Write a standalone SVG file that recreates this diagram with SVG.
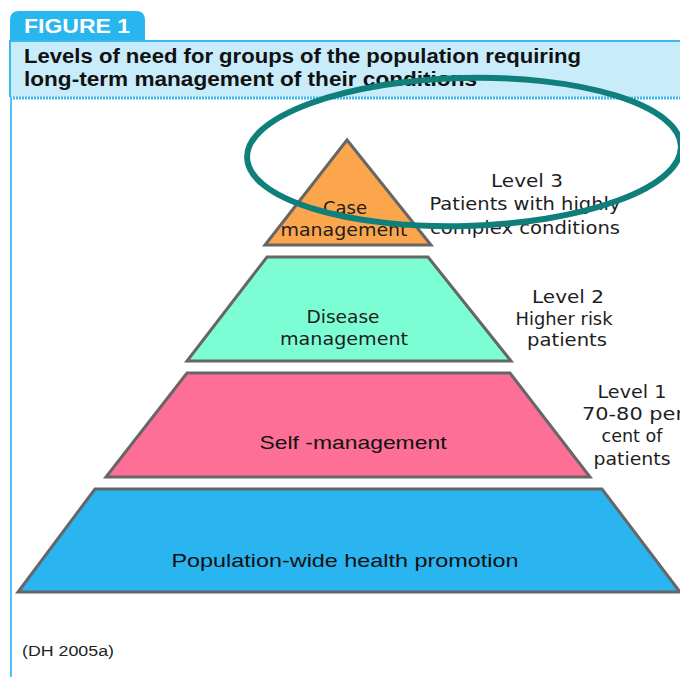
<svg xmlns="http://www.w3.org/2000/svg" width="680" height="677" viewBox="0 0 680 677">
<style>
.shape{stroke:#666;stroke-width:3;stroke-linejoin:miter}
.lbl{font-family:"DejaVu Sans",sans-serif;font-size:18px;fill:#1e1e1e;text-anchor:middle}
.lbl2{font-family:"Liberation Sans",Arial,sans-serif;font-size:19px;fill:#111;text-anchor:middle}
.title{font-family:"Liberation Sans",Arial,sans-serif;font-weight:bold;font-size:19.5px;fill:#111}
</style>
<rect x="0" y="0" width="680" height="677" fill="#ffffff"/>
<g id="header">
  <path d="M10,40 L10,20 Q10,11 19,11 L136,11 Q145,11 145,20 L145,40 Z" fill="#29b5ee"/>
  <text x="24" y="33" font-family="Liberation Sans,Arial,sans-serif" font-weight="bold" font-size="21" fill="#ffffff" textLength="106" lengthAdjust="spacingAndGlyphs">FIGURE 1</text>
  <rect x="10" y="40" width="670" height="57" fill="#c9ecfb"/>
  <line x1="10" y1="41" x2="680" y2="41" stroke="#3bb8f0" stroke-width="2"/>
  <line x1="10" y1="40" x2="10" y2="97" stroke="#3bb8f0" stroke-width="2"/>
  <text class="title" x="24" y="63" textLength="557" lengthAdjust="spacingAndGlyphs">Levels of need for groups of the population requiring</text>
  <text class="title" x="24" y="86" textLength="453" lengthAdjust="spacingAndGlyphs">long-term management of their conditions</text>
  <line x1="10" y1="98" x2="680" y2="98" stroke="#3bb8f0" stroke-width="3" stroke-dasharray="2 1"/>
  <line x1="11" y1="97" x2="11" y2="677" stroke="#4fc3f7" stroke-width="2"/>
</g>
<g id="level3">
  <polygon class="shape" points="347,140 265,245 431,245" fill="#fba64c"/>
  <text class="lbl" x="345" y="214">Case</text>
  <text class="lbl" x="344" y="236" textLength="127" lengthAdjust="spacingAndGlyphs">management</text>
</g>
<g id="level2">
  <polygon class="shape" points="267,257 428,257 511,361 187,361" fill="#7dfdd3"/>
  <text class="lbl" x="343" y="323" textLength="73" lengthAdjust="spacingAndGlyphs">Disease</text>
  <text class="lbl" x="344" y="345" textLength="128" lengthAdjust="spacingAndGlyphs">management</text>
</g>
<g id="level1">
  <polygon class="shape" points="187,373 510,373 590,477 106,477" fill="#fd6f96"/>
  <text class="lbl2" x="353" y="449" textLength="187" lengthAdjust="spacingAndGlyphs">Self -management</text>
</g>
<g id="base">
  <polygon class="shape" points="95,489 602,489 680,592 18,592" fill="#2ab4f0"/>
  <text class="lbl2" x="345" y="567" textLength="347" lengthAdjust="spacingAndGlyphs">Population-wide health promotion</text>
</g>
<g id="labels">
  <text class="lbl" x="527" y="187" textLength="72" lengthAdjust="spacingAndGlyphs">Level 3</text>
  <text class="lbl" x="525" y="210" textLength="191" lengthAdjust="spacingAndGlyphs">Patients with highly</text>
  <text class="lbl" x="525" y="234" textLength="190" lengthAdjust="spacingAndGlyphs">complex conditions</text>
  <text class="lbl" x="568" y="303" textLength="72" lengthAdjust="spacingAndGlyphs">Level 2</text>
  <text class="lbl" x="564" y="325" textLength="97" lengthAdjust="spacingAndGlyphs">Higher risk</text>
  <text class="lbl" x="567" y="346" textLength="80" lengthAdjust="spacingAndGlyphs">patients</text>
  <text class="lbl" x="632" y="398" textLength="69" lengthAdjust="spacingAndGlyphs">Level 1</text>
  <text class="lbl" x="582" y="420" textLength="102" lengthAdjust="spacingAndGlyphs" style="text-anchor:start">70-80 per</text>
  <text class="lbl" x="632" y="442" textLength="61" lengthAdjust="spacingAndGlyphs">cent of</text>
  <text class="lbl" x="632" y="465" textLength="77" lengthAdjust="spacingAndGlyphs">patients</text>
  <text x="22" y="656" font-family="Liberation Sans,Arial,sans-serif" font-size="14" fill="#222" textLength="92" lengthAdjust="spacingAndGlyphs">(DH 2005a)</text>
</g>
<g id="connectors">
  <ellipse cx="464" cy="152" rx="217" ry="74" transform="rotate(-1.5 464 152)" fill="none" stroke="#0f7f7b" stroke-width="6"/>
</g>
</svg>
